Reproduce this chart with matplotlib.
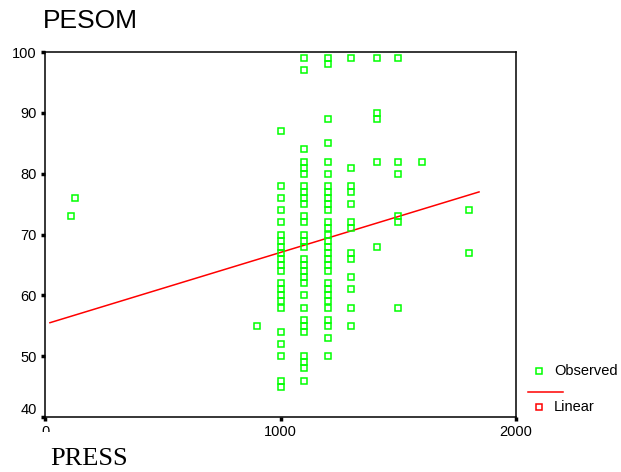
import numpy as np
import matplotlib
matplotlib.use('Agg')
import matplotlib.pyplot as plt
from matplotlib.lines import Line2D
from matplotlib.transforms import Bbox, TransformedBbox, ScaledTranslation

plt.rcParams['font.family'] = ['Liberation Sans', 'DejaVu Sans']

# observed points, grouped by PRESS value
press_vals = [110, 128, 900, 1000, 1100, 1200, 1300, 1410, 1500, 1600, 1800]
pesom_by_press = [
    [73],
    [76],
    [55],
    [87, 78, 76, 74, 72, 70, 69, 68, 67, 66, 65, 64, 62, 61, 60, 59, 58, 54, 52, 50, 46, 45],
    [99, 97, 84, 82, 81, 80, 78, 77, 76, 75, 73, 72, 70, 69, 68, 66, 65, 64, 63, 62, 60,
     58, 56, 55, 54, 50, 49, 48, 46],
    [99, 98, 89, 85, 82, 80, 78, 77, 76, 75, 74, 72, 71, 70, 69, 68, 67, 66, 65, 64, 62,
     61, 60, 59, 58, 56, 55, 53, 50],
    [99, 81, 78, 77, 75, 72, 71, 67, 66, 63, 61, 58, 55],
    [99, 90, 89, 82, 68],
    [99, 82, 80, 73, 72, 58],
    [82],
    [74, 67],
]
# linear fit line endpoints
fit_x = [21, 1843]
fit_y = [55.5, 77.0]

xticks = [0, 1000, 2000]
yticks = [40, 50, 60, 70, 80, 90, 100]

obs_x = np.concatenate([[p] * len(v) for p, v in zip(press_vals, pesom_by_press)])
obs_y = np.concatenate(pesom_by_press)

green = '#00ff00'
red = '#ff0000'

fig = plt.figure(figsize=(6.21, 4.72), dpi=100)
ax = fig.add_axes([45 / 621, 1 - 417 / 472, (516 - 45) / 621, (417 - 52) / 472])

ax.plot(fit_x, fit_y, color=red, linewidth=1.1, zorder=2)
ax.plot(obs_x, obs_y, linestyle='none', marker='s', markersize=4.6,
        markerfacecolor='none', markeredgecolor=green, markeredgewidth=1.1, zorder=3)

ax.set_xlim(0, 2000)
ax.set_ylim(40, 100)
ax.set_xticks(xticks)
ax.set_yticks(yticks)
ax.tick_params(direction='out', length=3, width=2.5, labelsize=10.5, pad=3)
for s in ax.spines.values():
    s.set_linewidth(1.1)
    s.set_color('black')

# SPSS-style shifted / clipped edge labels
lab40 = ax.get_yticklabels()[0]
lab40.set_transform(lab40.get_transform() + ScaledTranslation(0, 8 / 100, fig.dpi_scale_trans))
lab0 = ax.get_xticklabels()[0]
lab0.set_clip_box(TransformedBbox(Bbox([[0, 40 / 472], [1, 1]]), fig.transFigure))
lab0.set_clip_on(True)

fig.text(43 / 621, 1 - 28 / 472, 'PESOM', fontsize=19, ha='left', va='baseline')
fig.text(50 / 621, 2 / 472, 'PRESS', fontsize=19, ha='left', va='bottom',
         family='Liberation Serif')

# legend
fig.add_artist(Line2D([539 / 621], [1 - 370.7 / 472], marker='s', markersize=4.3,
                      markerfacecolor='none', markeredgecolor=green, markeredgewidth=1.1,
                      transform=fig.transFigure))
fig.add_artist(Line2D([528 / 621, 563 / 621], [1 - 391.7 / 472] * 2, color=red,
                      linewidth=1.1, transform=fig.transFigure))
fig.add_artist(Line2D([539 / 621], [1 - 406.7 / 472], marker='s', markersize=4.3,
                      markerfacecolor='none', markeredgecolor=red, markeredgewidth=1.1,
                      transform=fig.transFigure))
fig.text(554 / 621, 1 - 370.7 / 472, 'Observed', fontsize=10.5, va='center')
fig.text(554 / 621, 1 - 406.7 / 472, 'Linear', fontsize=10.5, va='center')

fig.savefig('out.png', dpi=100)
